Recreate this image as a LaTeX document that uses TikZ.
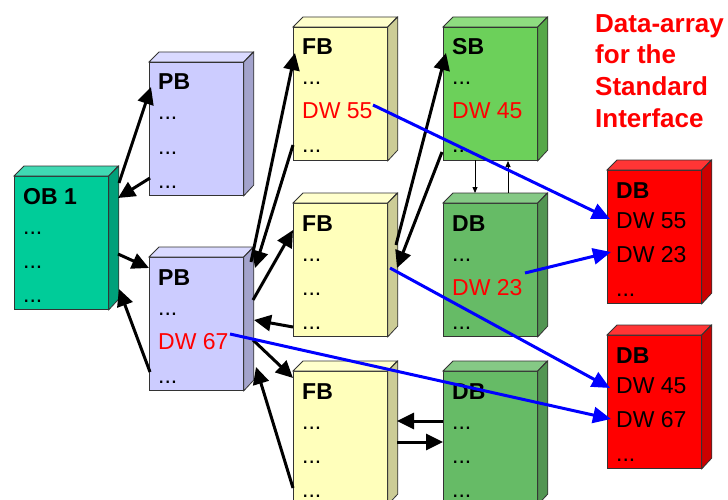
\documentclass[tikz,border=0pt]{standalone}
\usepackage{fontspec}
\setmainfont{Liberation Sans}
\usetikzlibrary{arrows.meta,calc}

\definecolor{obF}{HTML}{00CC99}\definecolor{obT}{HTML}{40D9B3}\definecolor{obS}{HTML}{00A07A}
\definecolor{pbF}{HTML}{CCCCFF}\definecolor{pbT}{HTML}{DADAFF}\definecolor{pbS}{HTML}{A3A3CC}
\definecolor{fbF}{HTML}{FFFFBB}\definecolor{fbT}{HTML}{FFFFCC}\definecolor{fbS}{HTML}{CCCC96}
\definecolor{sbF}{HTML}{6CD05A}\definecolor{sbT}{HTML}{8EDC80}\definecolor{sbS}{HTML}{56A848}
\definecolor{dbF}{HTML}{66BB66}\definecolor{dbT}{HTML}{85C985}\definecolor{dbS}{HTML}{529552}
\definecolor{rdF}{HTML}{FF0000}\definecolor{rdT}{HTML}{FF3535}\definecolor{rdS}{HTML}{CC0000}
\definecolor{edge}{HTML}{333333}

\tikzset{
  face/.style={draw=edge, line width=0.8pt},
  blk/.style={line width=3pt, -{Triangle[length=17pt,width=16pt]}},
  thinarr/.style={line width=0.8pt, -{Triangle[length=6pt,width=5pt]}},
  blu/.style={draw={rgb,255:red,0;green,0;blue,255}, line width=3pt,
              -{Triangle[length=18pt,width=16pt]}},
  ttl/.style={anchor=base west, inner sep=0pt, font=\fontsize{23}{27}\selectfont\bfseries},
  row/.style={anchor=base west, inner sep=0pt, font=\fontsize{23}{27}\selectfont},
  head/.style={anchor=base west, inner sep=0pt, text=red,
               font=\fontsize{26}{31}\selectfont\bfseries},
}

% 3D block: name, x, y (front top-left), front, top and side colours
\newcommand{\blockbox}[6]{%
  \node[face, fill=#4, minimum width=94pt, minimum height=133pt,
        anchor=north west, inner sep=0pt] (#1) at (#2,#3) {};
  \filldraw[face, fill=#5] (#1.north west) -- ++(10,-10) -- ++(94,0)
      -- (#1.north east) -- cycle;
  \filldraw[face, fill=#6] (#1.north east) -- ++(10,-10) -- ++(0,133)
      -- (#1.south east) -- cycle;
}
% four text lines of a block
\newcommand{\blocktext}[5]{%
  \node[ttl] (#1-t) at ($(#1.north west)+(9,28)$) {#2};
  \node[row] (#1-a) at ($(#1.north west)+(9,58)$) {#3};
  \node[row] (#1-b) at ($(#1.north west)+(9,92)$) {#4};
  \node[row] (#1-c) at ($(#1.north west)+(9,126)$) {#5};
}
\newcommand{\rd}[1]{\textcolor{red}{#1}}

\begin{document}
\begin{tikzpicture}[x=1pt, y=-1pt]
  \useasboundingbox (0,0) rectangle (728,500);
  \clip (0,0) rectangle (728,500);

  % blocks
  \blockbox{ob}{14}{176}{obF}{obT}{obS}
  \blockbox{pbA}{149}{62}{pbF}{pbT}{pbS}
  \blockbox{pbB}{149}{257}{pbF}{pbT}{pbS}
  \blockbox{fbA}{293}{27}{fbF}{fbT}{fbS}
  \blockbox{fbB}{293}{203}{fbF}{fbT}{fbS}
  \blockbox{fbC}{293}{371}{fbF}{fbT}{fbS}
  \blockbox{sb}{443}{27}{sbF}{sbT}{sbS}
  \blockbox{dbA}{443}{203}{dbF}{dbT}{dbS}
  \blockbox{dbB}{443}{371}{dbF}{dbT}{dbS}
  \blockbox{rA}{607}{170}{rdF}{rdT}{rdS}
  \blockbox{rB}{607}{335}{rdF}{rdT}{rdS}

  \blocktext{ob}{OB 1}{...}{...}{...}
  \blocktext{pbA}{PB}{...}{...}{...}
  \blocktext{pbB}{PB}{...}{\rd{DW 67}}{...}
  \blocktext{fbA}{FB}{...}{\rd{DW 55}}{...}
  \blocktext{fbB}{FB}{...}{...}{...}
  \blocktext{fbC}{FB}{...}{...}{...}
  \blocktext{sb}{SB}{...}{\rd{DW 45}}{...}
  \blocktext{dbA}{DB}{...}{\rd{DW 23}}{...}
  \blocktext{dbB}{DB}{...}{...}{...}
  \blocktext{rA}{DB}{DW 55}{DW 23}{...}
  \blocktext{rB}{DB}{DW 45}{DW 67}{...}

  % heading
  \node[head] (h1) at (595,33) {Data-array};
  \node[head] (h2) at (595,64) {for the};
  \node[head] (h3) at (595,96) {Standard};
  \node[head] (h4) at (595,128) {Interface};

  % connector end points
  \foreach \n/\x/\y in {
      o1/119/183, p1/151/87,   p2/150/178, o2/118/198,
      o3/118/254, p3/149/268,  p4/150/372, o4/119/289,
      pa/251/262, fa/295/53,   fb/293/145, pb/255/268,
      pc/253/300, fc/293/230,  fd/293/327, pd/254/320,
      pe/253/340, fe/293/378,  ff/293/488, pf/256/367,
      fg/396/245, sg/446/53,   sh/442/152, fh/397/268,
      s1/475/160, d1/475/193,  d2/508/193, s2/508/161,
      k1/443/421, c1/397/421,  c2/397/442, k2/443/442,
      u1/373/105, r1/610/219,  u2/525/273, r2/611/252,
      u3/390/268, r3/610/388,  u4/230/334, r4/611/419}
    \coordinate (\n) at (\x,\y);

  % call links
  \draw[blk] (o1) -- (p1);
  \draw[blk] (p2) -- (o2);
  \draw[blk] (o3) -- (p3);
  \draw[blk] (p4) -- (o4);
  \draw[blk] (pa) -- (fa);
  \draw[blk] (fb) -- (pb);
  \draw[blk] (pc) -- (fc);
  \draw[blk] (fd) -- (pd);
  \draw[blk] (pe) -- (fe);
  \draw[blk] (ff) -- (pf);
  \draw[blk] (fg) -- (sg);
  \draw[blk] (sh) -- (fh);
  \draw[blk] (k1) -- (c1);
  \draw[blk] (c2) -- (k2);
  \draw[thinarr] (s1) -- (d1);
  \draw[thinarr] (d2) -- (s2);

  % data word links
  \draw[blu] (u1) -- (r1);
  \draw[blu] (u2) -- (r2);
  \draw[blu] (u3) -- (r3);
  \draw[blu] (u4) -- (r4);
\end{tikzpicture}
\end{document}
